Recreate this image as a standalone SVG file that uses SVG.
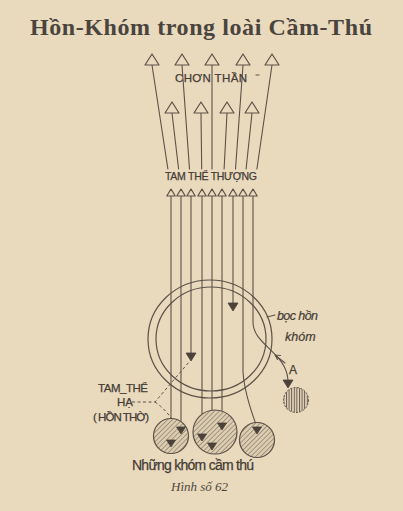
<svg xmlns="http://www.w3.org/2000/svg" width="403" height="511" viewBox="0 0 403 511">
<defs>
<style>
.ln{fill:none;stroke:#5a5149;stroke-width:1.1;stroke-linecap:round}
.dash{fill:none;stroke:#5a5149;stroke-width:1;stroke-dasharray:3,2.5}
.open{fill:#eadabd;stroke:#5a5149;stroke-width:1.2;stroke-linejoin:round}
.fill{fill:#4a423b;stroke:#4a423b;stroke-width:0.8;stroke-linejoin:round}
.ring{fill:none;stroke:#5a5149;stroke-width:1.2}
.hat{fill:url(#hatch);stroke:#5a5149;stroke-width:1.2}
.hatA{fill:url(#vhatch);stroke:#5a5149;stroke-width:1;stroke-dasharray:2,1.5}
.cap{font-family:"Liberation Sans",Arial,sans-serif;fill:#433b35;stroke:#433b35;stroke-width:0.25}
.hand{font-family:"Liberation Sans",Arial,sans-serif;font-style:italic;fill:#433b35;stroke:#433b35;stroke-width:0.2}
</style>
<pattern id="hatch" patternUnits="userSpaceOnUse" width="3.4" height="3.4" patternTransform="rotate(45)">
<rect width="3.4" height="3.4" fill="#ddcdb0"/>
<line x1="0" y1="0" x2="0" y2="3.4" stroke="#5a5149" stroke-width="0.9"/>
</pattern>
<pattern id="vhatch" patternUnits="userSpaceOnUse" width="2.6" height="2.6">
<rect width="2.6" height="2.6" fill="#e3d3b6"/>
<line x1="0.5" y1="0" x2="0.5" y2="2.6" stroke="#5a5149" stroke-width="0.9"/>
</pattern>
<path id="triBig" d="M0,0 L7,11 L-7,11 Z"/>
<path id="triSmall" d="M0,0 L4.2,7 L-4.2,7 Z"/>
<path id="arr" d="M-5,0 L5,0 L0,8 Z"/>
<path id="arrS" d="M-4.5,0 L4.5,0 L0,7 Z"/>
</defs>
<rect x="0" y="0" width="403" height="511" fill="#eadabd"/>

<g id="title">
<text x="30" y="35" font-family="'Liberation Serif',serif" font-weight="bold" font-size="24" fill="#4a443e" textLength="342" lengthAdjust="spacing">Hồn-Khóm trong loài Cầm-Thú</text>
</g>

<g id="connectors">
<path class="ln" d="M152,65 L167.9,169"/>
<path class="ln" d="M172,113 L178.6,169"/>
<path class="ln" d="M182,65 L189.5,169"/>
<path class="ln" d="M201,113 L201.7,169"/>
<path class="ln" d="M212,65 L212,169"/>
<path class="ln" d="M227,113 L224.1,169"/>
<path class="ln" d="M243,65 L235.5,169"/>
<path class="ln" d="M252,113 L246.1,169"/>
<path class="ln" d="M272,65 L256.9,169"/>
<path class="ln" d="M171,196 V440"/>
<path class="ln" d="M181,196 V427"/>
<path class="ln" d="M191,196 V353"/>
<path class="ln" d="M202,196 V434"/>
<path class="ln" d="M212,196 V443"/>
<path class="ln" d="M222,196 V423"/>
<path class="ln" d="M233,196 V303"/>
<path class="ln" d="M243,196 V372 Q244.5,394 257,427"/>
<path class="ln" d="M253,196 V322 C253,345 286,352 288,380"/>
<path class="ln" d="M285,363 L275,355 M275,355 L280.5,355.5 M275,355 L277.5,359.5"/>
<path class="ln" d="M267,317 L275,315"/>
<path class="dash" d="M132,402 L155,402 L189,362"/>
<path class="dash" d="M155,402 Q167,410 178,428"/>
</g>

<g id="chon-than">
<use href="#triBig" x="152" y="54" class="open"/>
<use href="#triBig" x="182" y="54" class="open"/>
<use href="#triBig" x="212" y="54" class="open"/>
<use href="#triBig" x="243" y="54" class="open"/>
<use href="#triBig" x="272" y="54" class="open"/>
<use href="#triBig" x="172" y="102" class="open"/>
<use href="#triBig" x="201" y="102" class="open"/>
<use href="#triBig" x="227" y="102" class="open"/>
<use href="#triBig" x="252" y="102" class="open"/>
<text class="cap" x="175" y="82" font-size="11.5" textLength="72" lengthAdjust="spacing">CHƠN THẦN</text>
<line class="ln" x1="256" y1="75" x2="259" y2="75"/>
</g>

<g id="tam-the-thuong">
<text class="cap" x="165" y="180" font-size="10.5" textLength="92" lengthAdjust="spacing">TAM THỂ THƯỢNG</text>
<use href="#triSmall" x="171" y="189" class="open"/>
<use href="#triSmall" x="181" y="189" class="open"/>
<use href="#triSmall" x="191" y="189" class="open"/>
<use href="#triSmall" x="202" y="189" class="open"/>
<use href="#triSmall" x="212" y="189" class="open"/>
<use href="#triSmall" x="222" y="189" class="open"/>
<use href="#triSmall" x="233" y="189" class="open"/>
<use href="#triSmall" x="243" y="189" class="open"/>
<use href="#triSmall" x="253" y="189" class="open"/>
</g>

<g id="boc-hon-khom">
<ellipse class="ring" cx="210" cy="339" rx="62" ry="59"/>
<ellipse class="ring" cx="211" cy="339" rx="55" ry="52"/>
<text class="hand" x="277" y="320" font-size="12.5" textLength="41" lengthAdjust="spacing">bọc hồn</text>
<text class="hand" x="285" y="341" font-size="12.5">khóm</text>
</g>

<g id="khom-1">
<circle class="hat" cx="171" cy="436" r="17.5"/>
</g>
<g id="khom-2">
<circle class="hat" cx="215" cy="432" r="22"/>
</g>
<g id="khom-3">
<circle class="hat" cx="257" cy="440" r="17.5"/>
</g>
<g id="khom-A">
<circle class="hatA" cx="296" cy="400" r="12.5"/>
<text class="cap" x="289" y="374" font-size="12">A</text>
</g>

<g id="arrows">
<use href="#arr" x="191" y="353" class="fill"/>
<use href="#arr" x="233" y="303" class="fill"/>
<use href="#arrS" x="171" y="440" class="fill"/>
<use href="#arrS" x="181" y="427" class="fill"/>
<use href="#arrS" x="202" y="434" class="fill"/>
<use href="#arrS" x="212" y="443" class="fill"/>
<use href="#arrS" x="222" y="423" class="fill"/>
<use href="#arrS" x="257" y="427" class="fill"/>
<use href="#arr" x="288" y="380" class="fill"/>
</g>

<g id="tam-the-ha">
<text class="cap" x="98" y="392" font-size="11.5" textLength="50" lengthAdjust="spacing">TAM_THỂ</text>
<text class="cap" x="117" y="406" font-size="11.5">HẠ</text>
<text class="cap" x="93" y="421" font-size="11.5" textLength="56" lengthAdjust="spacing">( HỒN THỜ)</text>
</g>

<g id="captions">
<text class="cap" x="132" y="470" font-size="14" textLength="122" lengthAdjust="spacing">Những khóm cầm thú</text>
<text x="171" y="491" font-family="'Liberation Serif',serif" font-style="italic" font-size="13" fill="#4e4640">Hình số 62</text>
</g>
</svg>
